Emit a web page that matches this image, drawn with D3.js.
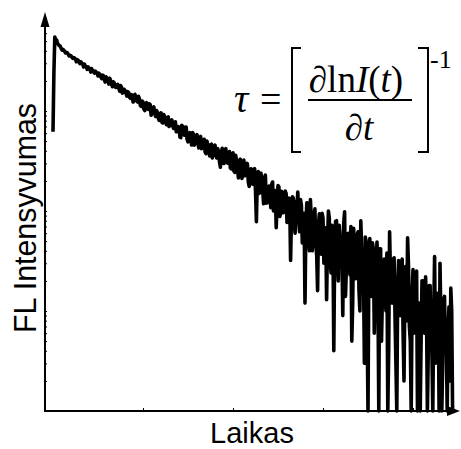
<!DOCTYPE html>
<html><head><meta charset="utf-8">
<script src="https://cdn.jsdelivr.net/npm/d3@7"></script>
<style>body{margin:0;background:#fff}</style>
</head><body>
<svg id="c" width="461" height="449"></svg>
<script>
// ---- data ----
const dt = 0.1; // ns per channel
const counts = [
 620,2400,5500,5000,5130,4760,4620,4500,4450,4250,4070,4130,4060,3930,3810,3860,3820,3680,3550,3600,
 3560,3450,3360,3420,3380,3280,3110,3260,3220,3090,2970,3100,3010,2970,2750,2940,2800,2780,2610,2760,
 2670,2660,2450,2650,2540,2470,2390,2510,2440,2390,2240,2390,2320,2200,2110,2280,2260,2060,1950,2200,
 2070,2050,1860,2130,2010,1860,1750,1960,1910,1740,1720,1810,1840,1710,1580,1800,1740,1510,1530,1650,
 1600,1520,1410,1560,1530,1370,1340,1460,1430,1230,1260,1470,1390,1280,1230,1400,1330,1140,1110,1260,
 1230,1040,1010,1140,1210,1050,1040,1180,1160,910,950,1070,1100,950,883,1010,970,850,805,920,
 960,770,760,920,880,790,730,860,875,700,735,760,815,710,668,770,780,620,624,700,
 687,550,542,720,705,600,573,690,690,520,491,590,607,540,457,610,587,455,480,545,
 580,480,428,540,557,420,430,470,522,390,375,500,451,415,356,460,466,340,362,430,
 455,370,339,420,394,310,274,380,424,300,299,410,420,325,301,370,393,270,264,315,
 382,250,244,360,316,270,214,320,330,225,212,266,324,225,229,300,296,195,176,244,
 264,215,185,260,265,160,78,215,248,150,153,240,212,165,118,215,228,120,121,170,
 177,140,108,185,195,100,124,160,68,115,180,175,88,95,157,128,96,110,158,150,
 77,80,135,120,32,92,139,135,76,60,125,105,155,80,62,130,115,48,53,95,
 12,70,121,120,55,40,130,85,40,62,90,105,46,36,16,75,94,55,37,95,
 85,30,50,68,13,48,100,85,31,24,72,60,4,42,79,80,35,20,72,56,
 28,38,9,75,98,14,28,50,60,30,23,70,5,12,67,45,21,26,58,62,
 16,10,80,40,24,24,3,55,49,8,0,36,53,20,14,48,41,6,17,30,
 49,18,0,42,42,5,14,26,33,14,10,38,0,4,62,22,13,12,33,34,
 9,3,0,18,32,10,9,30,33,6,2,16,28,8,54,28,7,5,0,14,
 26,6,8,24,25,0,2,12,0,5,20,20,7,6,22,10,0,4,18,18,
 5,4,0,9,35,3,6,15,13,0,30,8,0,3,13,14,4,5,0,7,
 11,2,17,10,0
];
const xTicks = [10, 20, 30, 40];
const yLabel = "FL Intensyvumas";
const xLabel = "Laikas";

// ---- scales ----
const svg = d3.select("#c");
const x = d3.scaleLinear().domain([0, 45]).range([53, 458]);
const y = d3.scaleLog().domain([1, 10000]).range([411, 11]).clamp(true);
const X0 = 45, Y0 = 411;

// ticks (inward, no labels)
const gx = svg.append("g").attr("transform", `translate(0,${Y0})`)
  .call(d3.axisBottom(x).tickValues(xTicks).tickSize(-3).tickFormat(""));
gx.select(".domain").remove();
gx.selectAll("line").attr("stroke", "#000").attr("stroke-width", 1);

const gy = svg.append("g").attr("transform", `translate(${X0},0)`)
  .call(d3.axisLeft(y).tickSize(-2).tickFormat(""));
gy.select(".domain").remove();
gy.selectAll(".tick").filter(d => y(d) < 30).remove();
gy.selectAll("line").attr("stroke", "#000").attr("stroke-width", 1);

// axis lines with arrows
svg.append("line").attr("x1", X0).attr("y1", Y0).attr("x2", X0).attr("y2", 24)
  .attr("stroke", "#000").attr("stroke-width", 2);
svg.append("path").attr("d", `M${X0},12 L${X0-4.5},27 L${X0+4.5},27 Z`).attr("fill", "#000");
svg.append("line").attr("x1", X0-1).attr("y1", Y0).attr("x2", 450).attr("y2", Y0)
  .attr("stroke", "#000").attr("stroke-width", 2);
svg.append("path").attr("d", `M460,${Y0} L447,${Y0-5} L447,${Y0+5} Z`).attr("fill", "#000");

// decay curve
const line = d3.line()
  .x((d, i) => x(i * dt))
  .y(d => y(Math.max(d, 1)));
svg.append("path").datum(counts).attr("d", line)
  .attr("fill", "none").attr("stroke", "#000")
  .attr("stroke-width", 3.6).attr("stroke-linejoin", "round");

// labels
svg.append("text").attr("transform", "translate(36,218) rotate(-90)")
  .attr("text-anchor", "middle").attr("font-family", "Liberation Sans, Arial, sans-serif")
  .attr("font-size", 31).attr("textLength", 230).attr("lengthAdjust", "spacingAndGlyphs")
  .text(yLabel);
svg.append("text").attr("x", 252).attr("y", 443).attr("text-anchor", "middle")
  .attr("font-family", "Liberation Sans, Arial, sans-serif").attr("font-size", 29)
  .text(xLabel);

// formula
const serif = "Liberation Serif, 'Times New Roman', serif";
svg.append("text").attr("x", 234).attr("y", 112).attr("font-family", serif)
  .attr("font-size", 40).attr("font-style", "italic").text("τ");
svg.append("text").attr("x", 260).attr("y", 112).attr("font-family", serif)
  .attr("font-size", 38).text("=");
const num = svg.append("text").attr("x", 356).attr("y", 92).attr("text-anchor", "middle")
  .attr("font-family", serif).attr("font-size", 37);
num.append("tspan").text("∂ln");
num.append("tspan").attr("font-style", "italic").text("I");
num.append("tspan").text("(");
num.append("tspan").attr("font-style", "italic").text("t");
num.append("tspan").text(")");
svg.append("line").attr("x1", 308).attr("x2", 412).attr("y1", 100).attr("y2", 100)
  .attr("stroke", "#000").attr("stroke-width", 2);
const den = svg.append("text").attr("x", 359).attr("y", 140).attr("text-anchor", "middle")
  .attr("font-family", serif).attr("font-size", 37);
den.append("tspan").text("∂");
den.append("tspan").attr("font-style", "italic").text("t");
svg.append("path").attr("d", "M301,48 H292 V152 H301").attr("fill", "none")
  .attr("stroke", "#000").attr("stroke-width", 2);
svg.append("path").attr("d", "M418,48 H428 V152 H418").attr("fill", "none")
  .attr("stroke", "#000").attr("stroke-width", 2);
svg.append("text").attr("x", 430).attr("y", 68).attr("font-family", serif)
  .attr("font-size", 26).text("-1");
</script>
</body></html>
